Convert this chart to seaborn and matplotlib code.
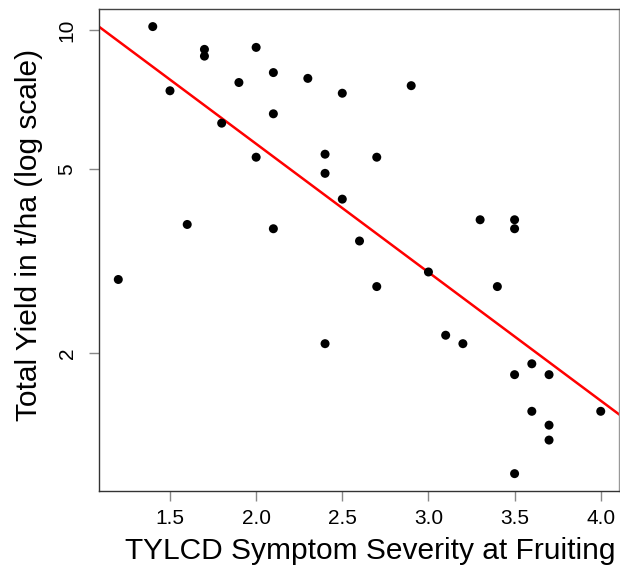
import numpy as np
import pandas as pd
import matplotlib
matplotlib.use("Agg")
import matplotlib.pyplot as plt
import seaborn as sns

severity = [1.2, 1.4, 1.5, 1.6, 1.7, 1.7, 1.8, 1.9, 2.0, 2.0,
            2.1, 2.1, 2.1, 2.3, 2.4, 2.4, 2.4, 2.5, 2.5, 2.6,
            2.7, 2.7, 2.9, 3.0, 3.1, 3.2, 3.3, 3.4, 3.5, 3.5,
            3.5, 3.5, 3.6, 3.6, 3.7, 3.7, 3.7, 4.0]
yield_tha = [2.89, 10.17, 7.39, 3.80, 9.08, 8.78, 6.29, 7.70, 9.17, 5.31,
             8.09, 6.59, 3.72, 7.86, 5.39, 4.90, 2.10, 7.30, 4.31, 3.50,
             5.31, 2.79, 7.58, 3.00, 2.19, 2.10, 3.89, 2.79, 3.89, 3.72,
             1.80, 1.10, 1.90, 1.50, 1.80, 1.40, 1.30, 1.50]
x_ticks = [1.5, 2.0, 2.5, 3.0, 3.5, 4.0]
x_tick_labels = ["1.5", "2.0", "2.5", "3.0", "3.5", "4.0"]
y_ticks = [2, 5, 10]
y_tick_labels = ["2", "5", "10"]
# fitted line: log10(yield) = intercept + slope * severity
fit_intercept = 1.309
fit_slope = -0.2775

df = pd.DataFrame({"severity": severity, "yield": yield_tha})

sns.set_theme(style="white")
plt.rcParams["font.family"] = ["Liberation Sans", "DejaVu Sans"]

fig = plt.figure(figsize=(6.2, 5.69), dpi=100)
ax = fig.add_axes([99 / 620, (569 - 491) / 569, 520 / 620, 482 / 569])

sns.scatterplot(data=df, x="severity", y="yield", ax=ax, color="black",
                s=42, edgecolor="none", linewidth=0, zorder=3)

ax.set_yscale("log")
xlim = (1.088, 4.106)
ax.set_xlim(*xlim)
ax.set_ylim(1.009, 11.1)

xs = np.linspace(xlim[0] - 0.05, xlim[1] + 0.05, 50)
fit = pd.DataFrame({"x": xs, "y": 10 ** (fit_intercept + fit_slope * xs)})
sns.lineplot(data=fit, x="x", y="y", ax=ax, color="#ff0000", linewidth=1.8,
             zorder=2)

ax.set_xticks(x_ticks)
ax.set_xticklabels(x_tick_labels)
ax.set_yticks(y_ticks)
ax.set_yticklabels(y_tick_labels, rotation=90, va="center")
ax.yaxis.set_minor_locator(matplotlib.ticker.NullLocator())

ax.tick_params(axis="both", which="major", direction="out", length=7.2,
               width=1.0, color="#888888", labelsize=15, labelcolor="black",
               left=True, bottom=True)
ax.tick_params(axis="x", pad=6)
ax.tick_params(axis="y", pad=9)

for side, col in [("left", "#333333"), ("bottom", "#333333"),
                  ("top", "#444444"), ("right", "#999999")]:
    ax.spines[side].set_visible(True)
    ax.spines[side].set_color(col)
    ax.spines[side].set_linewidth(1.0)

ax.set_xlabel("TYLCD Symptom Severity at Fruiting", fontsize=21.5,
              color="black")
ax.set_ylabel("Total Yield in t/ha (log scale)", fontsize=21.5,
              color="black")
ax.xaxis.set_label_coords(0.521, -0.1245)
ax.yaxis.set_label_coords(-0.135, 0.531)
ax.xaxis.label.set_va("center")
ax.yaxis.label.set_va("center")
ax.yaxis.label.set_ha("center")
ax.grid(False)

fig.savefig("out.png", dpi=100, facecolor="white")
